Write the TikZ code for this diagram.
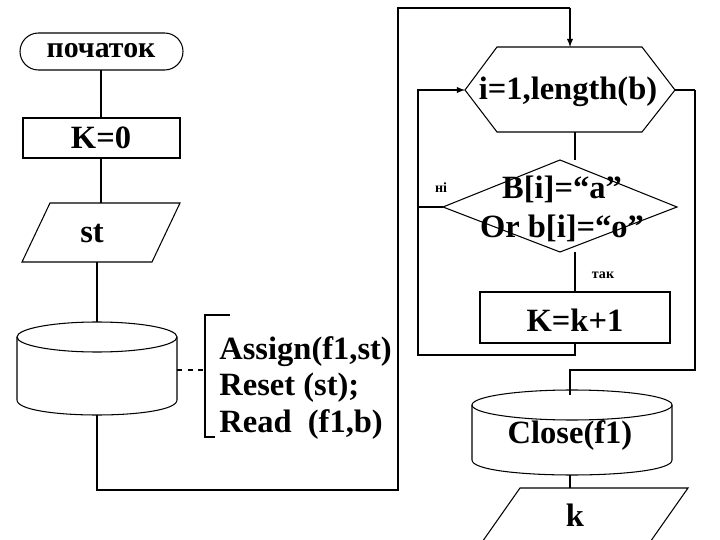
\documentclass[tikz,border=0pt]{standalone}
\usepackage{fontspec}
\setmainfont{Liberation Serif}
\usetikzlibrary{arrows,shapes.geometric}
\begin{document}
\begin{tikzpicture}[x=0.02cm,y=-0.02cm,line width=0.6pt,
    big/.style={font=\fontsize{18.5}{21}\selectfont\bfseries},
    tiny/.style={font=\fontsize{8}{9}\selectfont\bfseries},
    flow/.style={-latex}]
\useasboundingbox (0,0) rectangle (720,540);
% left column
\draw[rounded corners=18.5*0.02cm] (20,33) rectangle (183,70);
\node[font=\fontsize{17}{19}\selectfont\bfseries] (start) at (101,51) {початок};
\draw (23,118) rectangle (180,158);
\node[big] (k0) at (101,138) {K=0};
\draw (50,203) -- (180,203) -- (152,262) -- (22,262) -- cycle;
\node[big] (st) at (92,234) {st};
\draw (101,70) -- (101,118);
\draw (101,158) -- (101,203);
\draw (97,262) -- (97,322);
% file cylinder
\draw (97,337) ellipse [x radius=80*0.02cm,y radius=15*0.02cm];
\draw (17,337) -- (17,400) .. controls (17,420) and (177,420) .. (177,400) -- (177,337);
\coordinate (fileR) at (177,370);
\coordinate (fileB) at (97,415);
\draw[dashed] (fileR) -- (205,370);
\draw (230,315) -- (205,315) -- (205,437) -- (215,437);
\node[big,anchor=west,align=left] (ops) at (213,388) {Assign(f1,st)\\Reset (st);\\Read\ \ (f1,b)};
\draw (fileB) -- (97,490) -- (398,490) -- (398,8) -- (570,8);
\coordinate (hexT) at (570,47);
\draw[flow] (570,8) -- (hexT);
% loop header
\draw (465,90) -- (497,47) -- (642,47) -- (675,90) -- (642,132) -- (497,132) -- cycle;
\node[big] (loop) at (568,92) {i=1,length(b)};
\draw (575,132) -- (575,160);
% condition
\draw (443,207) -- (560,160) -- (677,207) -- (560,252) -- cycle;
\node[big,align=center] (cond) at (562,209) {B[i]=“a”\\[1pt]Or b[i]=“o”};
\node[tiny] (no) at (441,188) {ні};
\draw (575,252) -- (575,292);
\node[tiny] (yes) at (603,275) {так};
\draw[flow] (443,207) -- (418,207) -- (418,90) -- (465,90);
% increment
\draw (480,292) rectangle (670,343);
\node[big] (inc) at (575,320) {K=k+1};
\draw (575,343) -- (575,355) -- (418,355) -- (418,207);
% exit
\draw (695,90) -- (675,90);
\draw (695,90) -- (695,370) -- (570,370) -- (570,395);
\draw (572,405) ellipse [x radius=100*0.02cm,y radius=15*0.02cm];
\draw (472,405) -- (472,460) .. controls (472,480) and (672,480) .. (672,460) -- (672,405);
\node[big] (close) at (570,436) {Close(f1)};
\draw (570,475) -- (570,488);
\draw (520,488) -- (688,488) -- (648,545) -- (480,545) -- cycle;
\node[big] (out) at (575,515) {k};
\end{tikzpicture}
\end{document}
